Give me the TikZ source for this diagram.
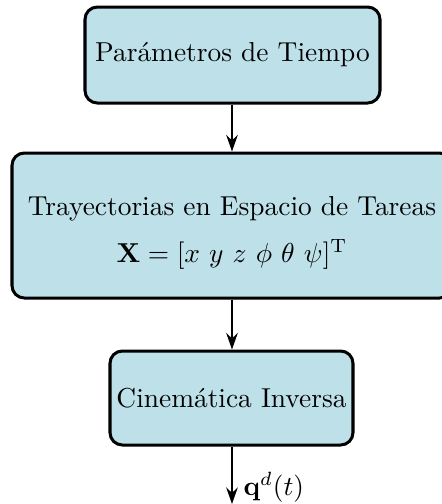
\documentclass[tikz,border=0pt]{standalone}
\usepackage{amsmath}
\usetikzlibrary{arrows.meta}
\newcommand\pxu{0.365pt}
\definecolor{boxblue}{RGB}{189,224,233}
\tikzset{
  blockbox/.style={draw=black, line width=1.1pt, fill=boxblue, rounded corners=4.5pt,
    align=center, inner sep=0pt},
  flowarrow/.style={line width=0.9pt, -{Stealth[length=6pt,width=4.2pt]}},
}
\begin{document}
\begin{tikzpicture}[x=\pxu, y=-\pxu]
\useasboundingbox (0,0) rectangle (442,504);
\node[blockbox, minimum width=295*\pxu, minimum height=96*\pxu] (tp) at (232.5,55) {Parámetros de Tiempo};
\node[blockbox, minimum width=440*\pxu, minimum height=145*\pxu] (tr) at (232,225.5) {};
\node[align=center, inner sep=0pt] (trtext) at (232,233)
  {Trayectorias en Espacio de Tareas\\[5pt] $\mathbf{X}=[x\ y\ z\ \phi\ \theta\ \psi]^{\mathrm{T}}$};
\node[blockbox, minimum width=243*\pxu, minimum height=94*\pxu] (ci) at (231.5,398) {Cinemática Inversa};
\coordinate (out) at (232,504);
\draw[flowarrow] (tp.south -| 232,0) -- (tr.north -| 232,0);
\draw[flowarrow] (tr.south -| 232,0) -- (ci.north -| 232,0);
\draw[flowarrow] (ci.south -| 232,0) -- (out);
\node[anchor=west, inner sep=0pt] (q) at (243,487) {$\mathbf{q}^{d}(t)$};
\end{tikzpicture}
\end{document}
